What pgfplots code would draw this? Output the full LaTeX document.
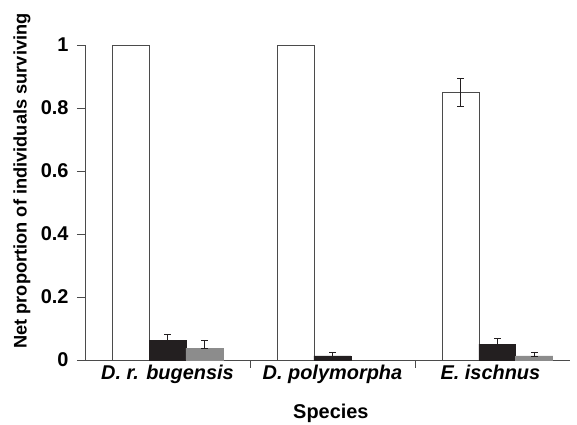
\documentclass[border=0pt]{standalone}
\usepackage{pgfplots}
\pgfplotsset{compat=1.18}
\usepackage{fontspec}
\setmainfont{Liberation Sans}
\setsansfont{Liberation Sans}

\definecolor{barblack}{RGB}{35,31,32}
\definecolor{bargray}{RGB}{140,140,140}
\definecolor{axgray}{RGB}{75,75,75}

\begin{document}
\begin{tikzpicture}
\useasboundingbox (-85bp,-65bp) rectangle (492bp,360bp);
\begin{axis}[
    scale only axis,
    width=485bp, height=315bp,
    xmin=-0.5, xmax=2.44,
    ymin=0, ymax=1,
    clip=false,
    axis x line=bottom, axis y line=left,
    axis line style={-, draw=axgray, line width=0.8pt},
    ybar=0pt, bar width=0.224,
    tick align=outside,
    major tick length=8bp,
    tick style={draw=axgray, line width=0.8pt},
    ytick={0,0.2,0.4,0.6,0.8,1},
    yticklabels={0,0.2,0.4,0.6,0.8,1},
    yticklabel style={font=\fontsize{20}{22}\selectfont\bfseries, text=black, xshift=-5bp},
    xtick={0.5,1.5},
    xticklabels={},
    extra x ticks={0,1,2},
    extra x tick labels={D. r. bugensis, D. polymorpha, E. ischnus\hspace*{14bp}},
    extra x tick style={major tick length=0pt,
        xticklabel style={font=\fontsize{20}{22}\selectfont\bfseries\itshape, text=black, yshift=-2bp}},
    xlabel={Species},
    xlabel style={font=\fontsize{20}{22}\selectfont\bfseries, at={(axis description cs:0.507,-0.168)}, anchor=center},
    ylabel={Net proportion of individuals surviving},
    ylabel style={font=\fontsize{18.3}{20}\selectfont\bfseries, at={(axis description cs:-0.13,0.568)}, anchor=center, rotate=0},
    error bars/error bar style={line width=0.8pt, draw=barblack},
    error bars/error mark options={rotate=90, mark size=3.2bp, line width=0.8pt, draw=barblack},
]
% control (white)
\addplot[fill=white, draw=axgray, line width=0.8pt,
    error bars/.cd, y dir=both, y explicit]
    coordinates {(0,1) (1,1) (2,0.85) +- (0,0.045)};
% black series
\addplot[fill=barblack, draw=barblack, line width=0.8pt,
    error bars/.cd, y dir=both, y explicit]
    coordinates {(0,0.061) += (0,0.020) -= (0,0)
                 (1,0.013) += (0,0.011) -= (0,0)
                 (2,0.050) += (0,0.019) -= (0,0)};
% gray series
\addplot[fill=bargray, draw=bargray, line width=0.8pt,
    error bars/.cd, y dir=both, y explicit]
    coordinates {(0,0.038) += (0,0.024) -= (0,0)
                 (2,0.013) += (0,0.011) -= (0,0)};
\end{axis}
\end{tikzpicture}
\end{document}
